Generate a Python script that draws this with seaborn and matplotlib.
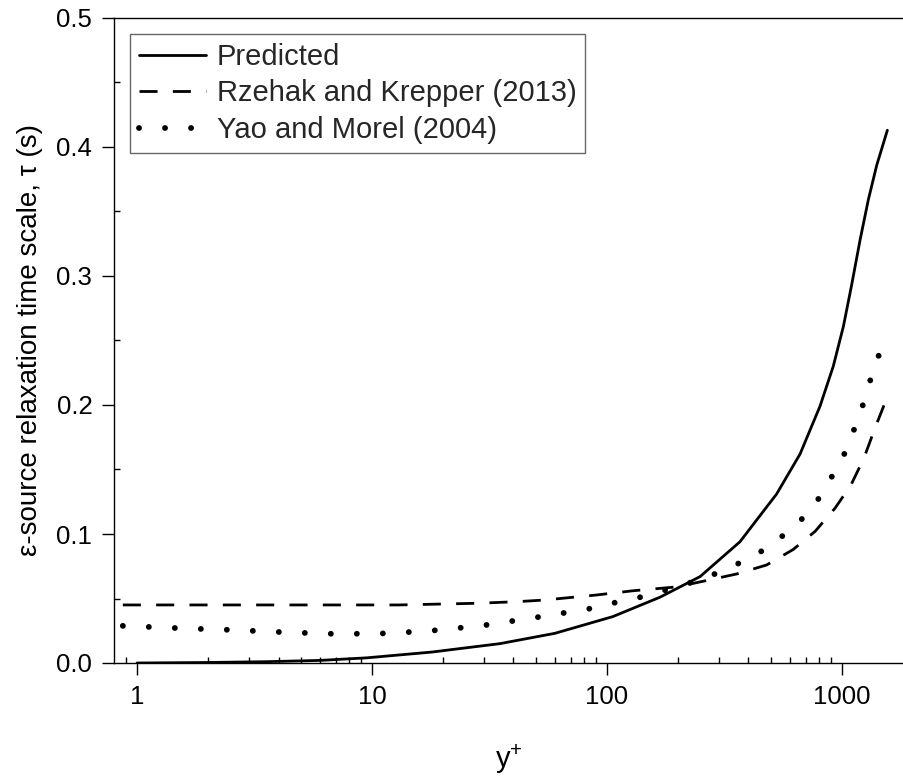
import numpy as np
import pandas as pd
import matplotlib
matplotlib.use("Agg")
import matplotlib.pyplot as plt
import matplotlib.ticker as mticker
import seaborn as sns

# ---- data ----
pred_x = [1, 2, 3.5, 6, 9.5, 18, 35, 60, 106, 168, 249, 368, 527, 663, 806,
          918, 1014, 1099, 1194, 1294, 1406, 1560]
pred_y = [0.0, 0.0004, 0.001, 0.002, 0.004, 0.0085, 0.015, 0.023, 0.036, 0.051,
          0.067, 0.094, 0.131, 0.162, 0.199, 0.23, 0.261, 0.293, 0.328, 0.359,
          0.386, 0.413]

rk_x = [0.87, 13, 28, 41, 54, 72, 90, 129, 198, 266, 356, 478, 620, 768, 934,
        1092, 1241, 1381, 1549]
rk_y = [0.045, 0.045, 0.0463, 0.0475, 0.0488, 0.051, 0.0527, 0.056, 0.059,
        0.064, 0.069, 0.076, 0.088, 0.102, 0.120, 0.138, 0.159, 0.182, 0.205]

ym_x = [0.87, 1.55, 2.57, 4.3, 7.1, 11.9, 19.6, 30.7, 50.2, 64, 82, 103, 132,
        160, 204, 256, 313, 393, 478, 554, 663, 780, 889, 1007, 1110, 1213,
        1303, 1406, 1559]
ym_y = [0.0288, 0.0269, 0.0256, 0.0238, 0.0225, 0.023, 0.0256, 0.0295, 0.0354,
        0.0385, 0.0416, 0.046, 0.050, 0.054, 0.060, 0.065, 0.072, 0.080, 0.089,
        0.098, 0.110, 0.125, 0.142, 0.159, 0.178, 0.197, 0.216, 0.235, 0.253]

labels = ["Predicted", "Rzehak and Krepper (2013)", "Yao and Morel (2004)"]
y_ticks = [0.0, 0.1, 0.2, 0.3, 0.4, 0.5]
x_ticks = [1, 10, 100, 1000]
x_minor = [0.9] + [m * d for d in (1, 10, 100) for m in range(2, 10)]

# ---- style ----
sns.set_theme(style="ticks")
plt.rcParams["font.family"] = ["Liberation Sans", "DejaVu Sans"]
plt.rcParams["mathtext.fontset"] = "custom"
plt.rcParams["mathtext.rm"] = "Liberation Sans"
plt.rcParams["mathtext.it"] = "Liberation Sans"
plt.rcParams["mathtext.default"] = "regular"

fig = plt.figure(figsize=(9.04, 7.76), dpi=100)
ax = fig.add_axes([114 / 904, 1 - 663 / 776, 790 / 904, 645 / 776])
ax.set_xscale("log")

sns.lineplot(x=pred_x, y=pred_y, ax=ax, color="black", lw=2.0,
             label=labels[0], sort=True)
sns.lineplot(x=rk_x, y=rk_y, ax=ax, color="black", lw=2.0,
             linestyle=(0, (6.5, 5.5)), label=labels[1], sort=True)
sns.lineplot(x=ym_x, y=ym_y, ax=ax, color="black", lw=4.2,
             linestyle=(0, (0.01, 4.45)), dash_capstyle="round",
             label=labels[2], sort=True)

ax.set_xlim(0.798, 1836)
ax.set_ylim(0, 0.5)

ax.yaxis.set_major_locator(mticker.FixedLocator(y_ticks))
ax.yaxis.set_major_formatter(mticker.FormatStrFormatter("%.1f"))
ax.yaxis.set_minor_locator(mticker.MultipleLocator(0.05))
ax.xaxis.set_major_locator(mticker.FixedLocator(x_ticks))
ax.xaxis.set_major_formatter(mticker.FuncFormatter(lambda v, p: f"{v:g}"))
ax.xaxis.set_minor_locator(mticker.FixedLocator(x_minor))
ax.xaxis.set_minor_formatter(mticker.NullFormatter())

ax.tick_params(which="major", direction="out", length=8.6, width=1.0,
               labelsize=18.5, color="black", labelcolor="black", pad=7)
ax.tick_params(which="minor", direction="in", length=4.3, width=1.0,
               color="black")
ax.tick_params(axis="x", which="both", top=False, bottom=True)
ax.tick_params(axis="y", which="both", right=False, left=True)

for side in ["left", "bottom", "top"]:
    ax.spines[side].set_visible(True)
    ax.spines[side].set_linewidth(1.0)
    ax.spines[side].set_color("black")
ax.spines["right"].set_visible(False)

ax.set_ylabel("ε-source relaxation time scale, τ (s)", fontsize=20,
              labelpad=10, color="black")
ax.set_xlabel("y$^{+}$", fontsize=21, labelpad=24, color="black")

for ln in ax.get_lines():
    if ln.get_label() == labels[2]:
        ln.set_dash_capstyle("round")

leg = ax.legend(loc="upper left", bbox_to_anchor=(16 / 790, (663 - 34) / 645),
                borderaxespad=0, fontsize=21, frameon=True, fancybox=False,
                framealpha=1, edgecolor="#666666", handlelength=2.3,
                handletextpad=0.38, labelspacing=0.3, borderpad=0.3)
leg.get_frame().set_linewidth(1.0)
for h in leg.get_lines():
    if h.get_label() == labels[2]:
        h.set_dash_capstyle("round")

fig.savefig("out.png", dpi=100, facecolor="white")
